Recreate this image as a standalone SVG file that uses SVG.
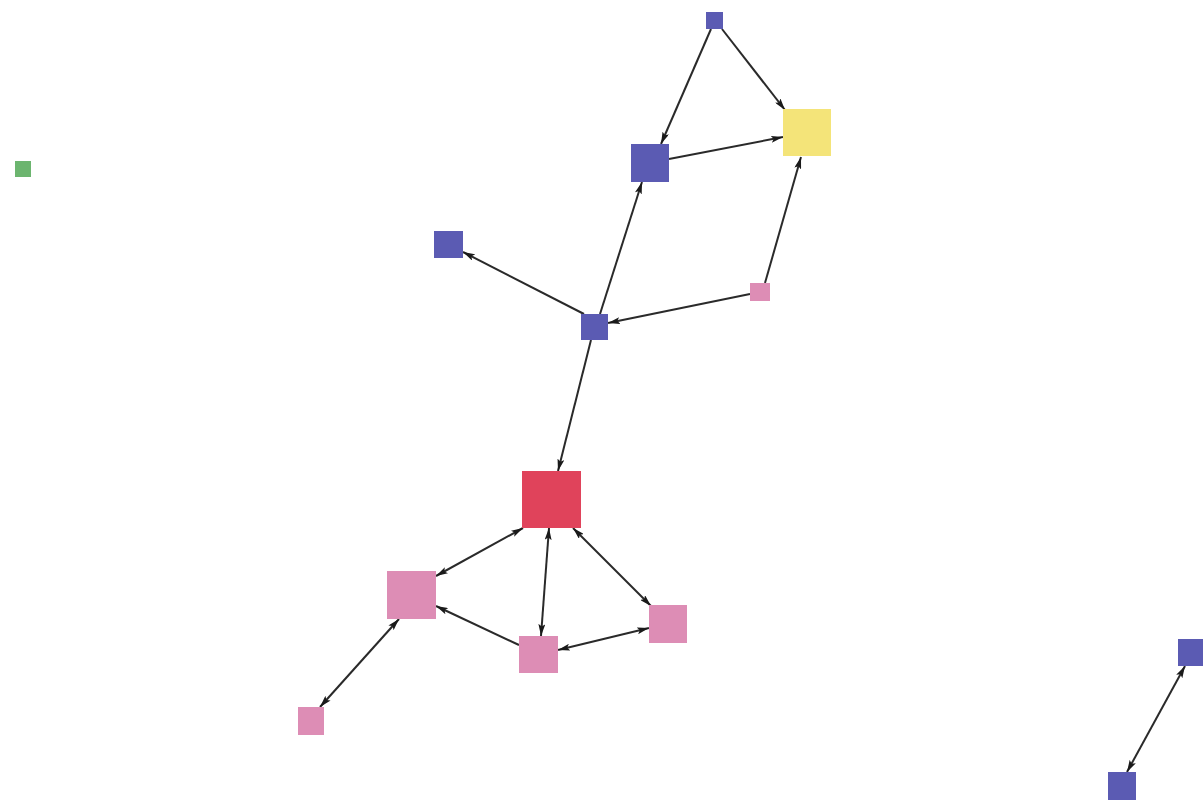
<svg xmlns="http://www.w3.org/2000/svg" width="1203" height="804" viewBox="0 0 1203 804">
<defs>
<style>
.e{stroke:#2a2a2a;stroke-width:2;fill:none;marker-end:url(#a)}
.b{marker-start:url(#a)}
.blue{fill:#5b5bb3}
.pink{fill:#dd8db5}
.red{fill:#e0435b}
.yellow{fill:#f4e479}
.green{fill:#6cb56f}
</style>
<marker id="a" viewBox="0 0 12 7" refX="12" refY="3.5" markerWidth="12" markerHeight="7" markerUnits="userSpaceOnUse" orient="auto-start-reverse">
<path d="M0,0 L12,3.5 L0,7 L2.5,3.5 Z" fill="#1a1a1a"/>
</marker>
</defs>
<rect width="1203" height="804" fill="#ffffff"/>
<g id="connectors">
<line class="e" x1="711" y1="29" x2="661" y2="144"/>
<line class="e" x1="722" y1="29" x2="785" y2="110"/>
<line class="e" x1="669" y1="159" x2="783" y2="137"/>
<line class="e" x1="765" y1="283" x2="801" y2="157"/>
<line class="e" x1="750" y1="294" x2="608" y2="323"/>
<line class="e" x1="584" y1="314" x2="463" y2="252"/>
<line class="e" x1="600" y1="314" x2="642" y2="182"/>
<line class="e" x1="591" y1="340" x2="558" y2="471"/>
<line class="e b" x1="523" y1="528" x2="436" y2="576"/>
<line class="e b" x1="549" y1="528" x2="541" y2="636"/>
<line class="e b" x1="573" y1="528" x2="651" y2="606"/>
<line class="e" x1="519" y1="645" x2="436" y2="606"/>
<line class="e b" x1="558" y1="650" x2="649" y2="628"/>
<line class="e b" x1="399" y1="619" x2="320" y2="707"/>
<line class="e b" x1="1185" y1="666" x2="1127" y2="772"/>
</g>
<g id="n1"><rect class="blue" x="706" y="12" width="17" height="17"/></g>
<g id="n2"><rect class="yellow" x="783" y="109" width="48" height="47"/></g>
<g id="n3"><rect class="blue" x="631" y="144" width="38" height="38"/></g>
<g id="n4"><rect class="blue" x="434" y="231" width="29" height="27"/></g>
<g id="n5"><rect class="blue" x="581" y="314" width="27" height="26"/></g>
<g id="n6"><rect class="pink" x="750" y="283" width="20" height="18"/></g>
<g id="n7"><rect class="red" x="522" y="471" width="59" height="57"/></g>
<g id="n8"><rect class="pink" x="387" y="571" width="49" height="48"/></g>
<g id="n9"><rect class="pink" x="649" y="605" width="38" height="38"/></g>
<g id="n10"><rect class="pink" x="519" y="636" width="39" height="37"/></g>
<g id="n11"><rect class="pink" x="298" y="707" width="26" height="28"/></g>
<g id="n12"><rect class="blue" x="1178" y="639" width="27" height="27"/></g>
<g id="n13"><rect class="blue" x="1108" y="772" width="28" height="28"/></g>
<g id="n14"><rect class="green" x="15" y="161" width="16" height="16"/></g>
</svg>
